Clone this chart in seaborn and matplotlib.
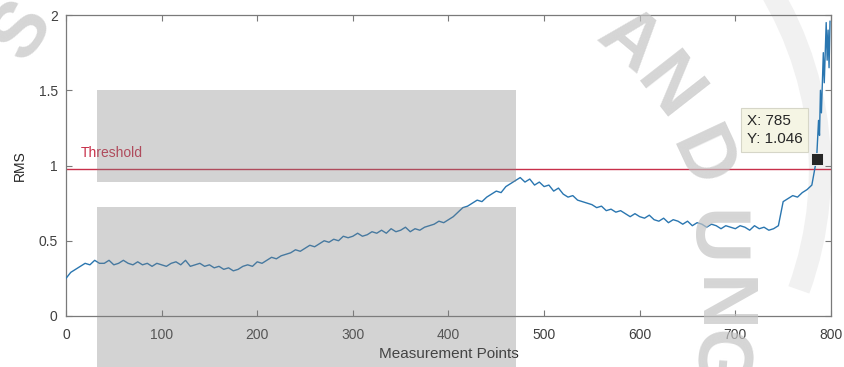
import numpy as np
import pandas as pd
import seaborn as sns
import matplotlib.pyplot as plt
from matplotlib.patches import Rectangle, Arc

# Measurement index and RMS value at each sampled point
points = list(range(0, 785, 5)) + [785, 787, 788, 789, 790, 792, 793, 795, 796, 797, 798, 799]
rms = [
    0.25, 0.29, 0.31, 0.33, 0.35, 0.34, 0.37, 0.35, 0.35, 0.37,   # 0-45
    0.34, 0.35, 0.37, 0.35, 0.34, 0.36, 0.34, 0.35, 0.33, 0.35,   # 50-95
    0.34, 0.33, 0.35, 0.36, 0.34, 0.37, 0.33, 0.34, 0.35, 0.33,   # 100-145
    0.34, 0.32, 0.33, 0.31, 0.32, 0.30, 0.31, 0.33, 0.34, 0.33,   # 150-195
    0.36, 0.35, 0.37, 0.39, 0.38, 0.40, 0.41, 0.42, 0.44, 0.43,   # 200-245
    0.45, 0.47, 0.46, 0.48, 0.50, 0.49, 0.51, 0.50, 0.53, 0.52,   # 250-295
    0.53, 0.55, 0.53, 0.54, 0.56, 0.55, 0.57, 0.55, 0.58, 0.56,   # 300-345
    0.57, 0.59, 0.56, 0.58, 0.57, 0.59, 0.60, 0.61, 0.63, 0.62,   # 350-395
    0.64, 0.66, 0.69, 0.72, 0.73, 0.75, 0.77, 0.76, 0.79, 0.81,   # 400-445
    0.83, 0.82, 0.86, 0.88, 0.90, 0.92, 0.89, 0.91, 0.87, 0.89,   # 450-495
    0.86, 0.87, 0.83, 0.85, 0.81, 0.79, 0.80, 0.77, 0.76, 0.75,   # 500-545
    0.74, 0.72, 0.73, 0.70, 0.71, 0.69, 0.70, 0.68, 0.66, 0.68,   # 550-595
    0.66, 0.65, 0.67, 0.64, 0.63, 0.65, 0.62, 0.64, 0.63, 0.61,   # 600-645
    0.63, 0.60, 0.62, 0.61, 0.59, 0.61, 0.60, 0.58, 0.60, 0.59,   # 650-695
    0.58, 0.60, 0.59, 0.57, 0.60, 0.58, 0.59, 0.57, 0.58, 0.60,   # 700-745
    0.76, 0.78, 0.80, 0.79, 0.82, 0.84, 0.87,                     # 750-780
    1.046, 1.30, 1.20, 1.50, 1.35, 1.75, 1.55, 1.95, 1.70, 1.90, 1.65, 1.96,
]
threshold = 0.98
tip_x, tip_y = 785, 1.046
xticks = [0, 100, 200, 300, 400, 500, 600, 700, 800]
yticks = [0, 0.5, 1, 1.5, 2]
ytick_labels = ["0", "0.5", "1", "1.5", "2"]

df = pd.DataFrame({"Measurement Points": points, "RMS": rms})

sns.set_theme(style="white")
plt.rcParams["font.family"] = ["Liberation Sans", "DejaVu Sans"]

fig = plt.figure(figsize=(8.45, 3.67), dpi=100, facecolor="white")
ax = fig.add_axes([0.0781, 0.139, 0.9053, 0.820])
ax.patch.set_alpha(0.0)

sns.lineplot(data=df, x="Measurement Points", y="RMS", ax=ax,
             color="#2a76b0", linewidth=1.0, zorder=3)
ax.axhline(threshold, color="#C8304A", linewidth=1.0, zorder=2)
ax.text(15, threshold + 0.1, "Threshold", color="#C8304A", fontsize=10,
        va="center", ha="left")

# data tip
ax.plot([tip_x], [tip_y], marker="s", markersize=8, color="#262626",
        markeredgecolor="white", markeredgewidth=0.6, zorder=5)
ax.annotate(f"X: {tip_x}\nY: {tip_y}", xy=(tip_x, tip_y),
            xytext=(-70, 13), textcoords="offset pixels",
            fontsize=11, color="#262626", va="bottom", ha="left",
            linespacing=1.35,
            bbox=dict(boxstyle="square,pad=0.4", fc="#F5F5E4", ec="#D6D6C8", lw=0.8),
            zorder=6)

ax.set_xlim(0, 800)
ax.set_ylim(0, 2)
ax.set_xticks(xticks)
ax.set_yticks(yticks)
ax.set_yticklabels(ytick_labels)
ax.tick_params(direction="in", length=4, width=0.8, colors="#7a7a7a",
               labelcolor="#404040", labelsize=10, top=True, right=True,
               bottom=True, left=True)
ax.tick_params(axis="x", pad=9)
ax.tick_params(axis="y", pad=6)
for s in ax.spines.values():
    s.set_color("#7a7a7a")
    s.set_linewidth(0.9)
ax.set_xlabel("Measurement Points", fontsize=11, color="#262626", labelpad=3)
ax.set_ylabel("RMS", fontsize=10, color="#262626", labelpad=8)

# repository watermark overlaid on the figure
W, H = 845, 367
def frect(x0, y0, x1, y1):
    return Rectangle((x0 / W, 1 - y1 / H), (x1 - x0) / W, (y1 - y0) / H,
                     transform=fig.transFigure, facecolor="#808080",
                     alpha=0.34, edgecolor="none", zorder=10)
fig.patches.append(frect(97, 90, 516, 182))
fig.patches.append(frect(97, 207, 516, 367))

arc = Arc((470 / W, 1 - 170 / H), 2 * 350 / W, 2 * 350 / H, theta1=-40, theta2=62,
          transform=fig.transFigure, color="#f1f1f1", lw=16, zorder=-1)
fig.patches.append(arc)

wm = dict(fontsize=56, fontweight="bold", color="#c4c4c4", alpha=0.7,
          ha="center", va="center", zorder=11)
for ch, px, py, rot in [("S", 22, 30, 55), ("A", 628, 42, -40), ("N", 667, 90, -52),
                        ("D", 700, 160, -65), ("U", 712, 238, -90),
                        ("N", 718, 305, -90), ("G", 716, 360, -95)]:
    fig.text(px / W, 1 - py / H, ch, rotation=rot, **wm)

fig.savefig("out.png", dpi=100)
